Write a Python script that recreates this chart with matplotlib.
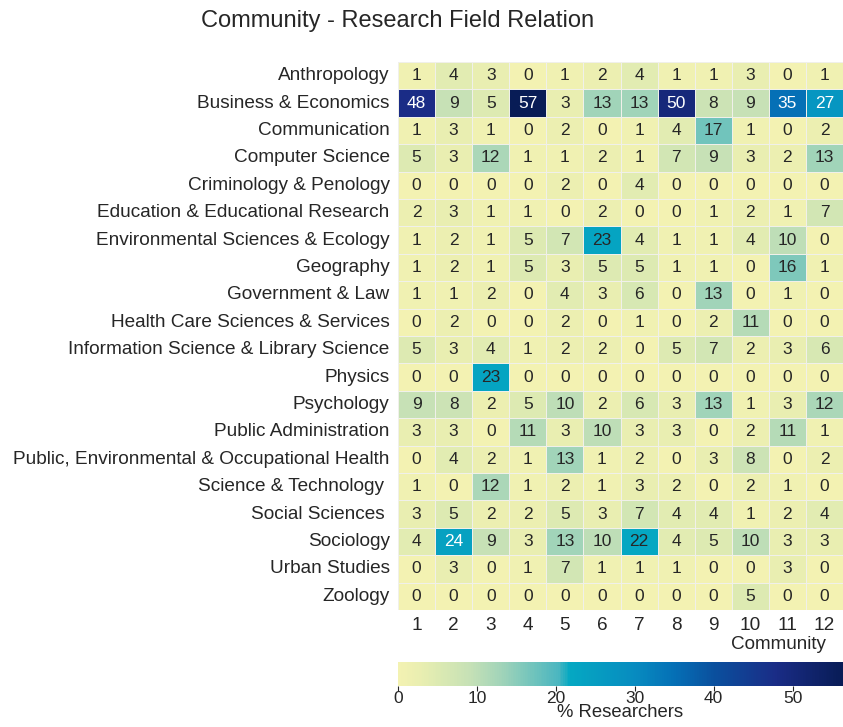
import matplotlib
matplotlib.use('Agg')
import matplotlib.pyplot as plt
from matplotlib.colors import LinearSegmentedColormap
import seaborn as sns
import numpy as np
import pandas as pd

sns.set_style('white')
plt.rcParams['font.family'] = ['Liberation Sans', 'DejaVu Sans']

# research fields (rows) and communities (columns)
fields = ['Anthropology', 'Business & Economics', 'Communication', 'Computer Science',
          'Criminology & Penology', 'Education & Educational Research',
          'Environmental Sciences & Ecology', 'Geography', 'Government & Law',
          'Health Care Sciences & Services', 'Information Science & Library Science',
          'Physics', 'Psychology', 'Public Administration',
          'Public, Environmental & Occupational Health', 'Science & Technology ',
          'Social Sciences ', 'Sociology', 'Urban Studies', 'Zoology']
communities = [1, 2, 3, 4, 5, 6, 7, 8, 9, 10, 11, 12]

anthropology   = [1, 4, 3, 0, 1, 2, 4, 1, 1, 3, 0, 1]
business       = [48, 9, 5, 57, 3, 13, 13, 50, 8, 9, 35, 27]
communication  = [1, 3, 1, 0, 2, 0, 1, 4, 17, 1, 0, 2]
computer_sci   = [5, 3, 12, 1, 1, 2, 1, 7, 9, 3, 2, 13]
criminology    = [0, 0, 0, 0, 2, 0, 4, 0, 0, 0, 0, 0]
education      = [2, 3, 1, 1, 0, 2, 0, 0, 1, 2, 1, 7]
env_sciences   = [1, 2, 1, 5, 7, 23, 4, 1, 1, 4, 10, 0]
geography      = [1, 2, 1, 5, 3, 5, 5, 1, 1, 0, 16, 1]
government     = [1, 1, 2, 0, 4, 3, 6, 0, 13, 0, 1, 0]
health_care    = [0, 2, 0, 0, 2, 0, 1, 0, 2, 11, 0, 0]
info_science   = [5, 3, 4, 1, 2, 2, 0, 5, 7, 2, 3, 6]
physics        = [0, 0, 23, 0, 0, 0, 0, 0, 0, 0, 0, 0]
psychology     = [9, 8, 2, 5, 10, 2, 6, 3, 13, 1, 3, 12]
public_admin   = [3, 3, 0, 11, 3, 10, 3, 3, 0, 2, 11, 1]
public_health  = [0, 4, 2, 1, 13, 1, 2, 0, 3, 8, 0, 2]
science_tech   = [1, 0, 12, 1, 2, 1, 3, 2, 0, 2, 1, 0]
social_sci     = [3, 5, 2, 2, 5, 3, 7, 4, 4, 1, 2, 4]
sociology      = [4, 24, 9, 3, 13, 10, 22, 4, 5, 10, 3, 3]
urban_studies  = [0, 3, 0, 1, 7, 1, 1, 1, 0, 0, 3, 0]
zoology        = [0, 0, 0, 0, 0, 0, 0, 0, 0, 5, 0, 0]

rows = [anthropology, business, communication, computer_sci, criminology, education,
        env_sciences, geography, government, health_care, info_science, physics,
        psychology, public_admin, public_health, science_tech, social_sci, sociology,
        urban_studies, zoology]
df = pd.DataFrame(rows, index=fields, columns=communities)

# colour ramp picked off the original colorbar
cmap = LinearSegmentedColormap.from_list('ref', [
    (0.00, '#f3f2b2'), (0.05, '#e9eeb1'), (0.09, '#dceab2'), (0.16, '#c6e1b6'),
    (0.23, '#a2d4b9'), (0.30, '#72c4bc'), (0.36, '#4bb6c0'), (0.385, '#05a8c2'),
    (0.53, '#078cc0'), (0.62, '#0570b6'), (0.71, '#0a509e'), (0.85, '#1a2c86'),
    (1.00, '#081c56')])

fig = plt.figure(figsize=(8.43, 7.27), dpi=100)
ax = fig.add_axes([398/843, 1 - 610/727, 445/843, 548/727])
cax = fig.add_axes([398/843, 1 - 686/727, 445/843, 24/727])

sns.heatmap(df, ax=ax, cbar_ax=cax, cmap=cmap, vmin=0, vmax=56.4,
            annot=False, linewidths=0.5, linecolor='#f0f0ea',
            cbar_kws={'orientation': 'horizontal'})

# cell numbers
for i in range(df.shape[0]):
    for j in range(df.shape[1]):
        v = df.iloc[i, j]
        ax.text(j + 0.5, i + 0.5, str(v), ha='center', va='center', fontsize=12.5,
                color='white' if v > 23.5 else '#262626')

ax.tick_params(axis='both', length=0, labelsize=13.7)
ax.tick_params(axis='y', pad=6)
ax.tick_params(axis='x', pad=5)
plt.setp(ax.get_yticklabels(), rotation=0)
ax.set_xlabel('Community', fontsize=13.6, loc='right')
ax.xaxis.set_label_coords(0.962, -0.047)
ax.set_ylabel('')

cax.tick_params(axis='x', length=3.5, width=0.8, labelsize=12.5, pad=0, colors='#262626')
cax.set_xlabel('% Researchers', fontsize=13.3, labelpad=-1)
for s in cax.spines.values():
    s.set_visible(False)

fig.text(398/843, 1 - 21/727, 'Community - Research Field Relation',
         ha='center', va='center', fontsize=17)

fig.savefig('out.png', dpi=100)
